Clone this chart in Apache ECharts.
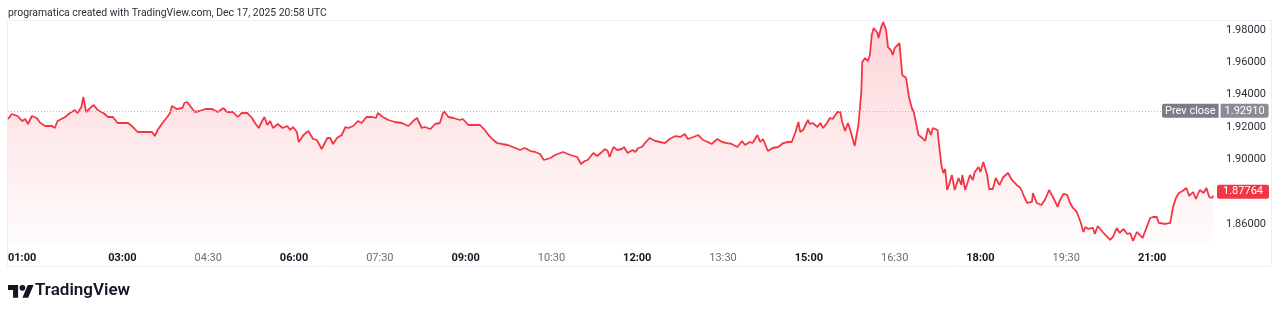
<!DOCTYPE html>
<html><head><meta charset="utf-8">
<script src="https://cdn.jsdelivr.net/npm/echarts@6/dist/echarts.min.js"></script>
<style>html,body{margin:0;padding:0;background:#fff}#c{width:1280px;height:314px}</style>
</head><body><div id="c"></div>
<script>
const titleText = "programatica created with TradingView.com, Dec 17, 2025 20:58 UTC";
const brandText = "TradingView";
const times = ["01:00","01:04","01:10","01:15","01:18","01:21","01:25","01:30","01:34","01:39","01:46","01:49","01:52","02:00","02:05","02:10","02:13","02:17","02:19","02:22","02:26","02:30","02:34","02:40","02:45","02:50","02:55","03:01","03:06","03:11","03:16","03:24","03:31","03:34","03:37","03:42","03:47","03:50","03:52","03:57","04:03","04:05","04:08","04:11","04:16","04:21","04:27","04:34","04:40","04:46","04:50","04:56","05:01","05:05","05:11","05:16","05:19","05:23","05:26","05:29","05:32","05:35","05:38","05:43","05:48","05:53","05:56","05:59","06:03","06:05","06:10","06:15","06:20","06:24","06:29","06:35","06:38","06:41","06:45","06:50","06:54","06:57","07:02","07:07","07:11","07:16","07:22","07:26","07:28","07:33","07:39","07:46","07:53","08:00","08:05","08:09","08:11","08:14","08:17","08:23","08:28","08:33","08:37","08:42","08:47","08:54","08:57","09:03","09:10","09:15","09:20","09:24","09:29","09:33","09:38","09:44","09:52","09:57","10:02","10:08","10:13","10:18","10:22","10:29","10:34","10:42","10:50","10:57","11:01","11:05","11:08","11:14","11:18","11:23","11:26","11:29","11:31","11:35","11:39","11:44","11:46","11:50","11:55","11:58","12:01","12:05","12:08","12:13","12:19","12:24","12:29","12:34","12:40","12:45","12:50","12:53","12:59","13:04","13:09","13:14","13:18","13:24","13:29","13:34","13:39","13:45","13:50","13:53","13:58","14:01","14:06","14:09","14:12","14:17","14:22","14:28","14:33","14:38","14:42","14:46","14:49","14:51","14:54","14:59","15:01","15:04","15:09","15:12","15:15","15:19","15:22","15:25","15:30","15:33","15:35","15:38","15:41","15:44","15:48","15:52","15:55","15:56","15:59","16:02","16:04","16:06","16:08","16:12","16:13","16:16","16:18","16:21","16:23","16:26","16:28","16:30","16:35","16:38","16:42","16:45","16:48","16:50","16:55","16:59","17:02","17:05","17:08","17:10","17:15","17:16","17:19","17:21","17:23","17:25","17:27","17:30","17:33","17:37","17:40","17:41","17:44","17:49","17:52","17:54","17:58","18:00","18:03","18:07","18:09","18:13","18:16","18:20","18:24","18:29","18:33","18:38","18:42","18:46","18:49","18:54","18:55","18:59","19:04","19:08","19:12","19:16","19:21","19:23","19:27","19:31","19:34","19:37","19:41","19:45","19:48","19:50","19:53","19:58","20:00","20:03","20:09","20:13","20:16","20:19","20:23","20:26","20:30","20:34","20:37","20:40","20:44","20:50","20:54","20:58","21:01","21:05","21:07","21:14","21:19","21:22","21:25","21:28","21:32","21:36","21:39","21:43","21:46","21:50","21:54","21:57","22:00","22:03","22:04"];
const prices = [1.92495,1.92804,1.92681,1.92371,1.92495,1.92186,1.92681,1.92557,1.92248,1.92062,1.92062,1.91938,1.92371,1.92619,1.92866,1.93052,1.92866,1.93237,1.93856,1.92928,1.93175,1.93361,1.93052,1.92866,1.92619,1.92619,1.92248,1.92248,1.92248,1.92000,1.91691,1.91691,1.91691,1.91443,1.91815,1.92248,1.92619,1.92866,1.93299,1.93114,1.93175,1.93485,1.93546,1.93299,1.92928,1.92990,1.93114,1.93114,1.92928,1.93175,1.92928,1.92928,1.92619,1.92866,1.92866,1.92557,1.92248,1.91938,1.92309,1.92619,1.92124,1.92371,1.91938,1.92186,1.91938,1.92062,1.91815,1.92000,1.91691,1.91072,1.91505,1.91753,1.91258,1.91196,1.90639,1.91320,1.91320,1.90949,1.91320,1.91505,1.92000,1.91938,1.92062,1.92371,1.92248,1.92619,1.92619,1.92557,1.92866,1.92619,1.92433,1.92309,1.92248,1.92062,1.92371,1.92557,1.92309,1.91938,1.92000,1.91876,1.92186,1.92248,1.92990,1.92619,1.92557,1.92433,1.92495,1.92124,1.92124,1.92124,1.91815,1.91505,1.91196,1.91010,1.90949,1.90887,1.90701,1.90577,1.90701,1.90515,1.90454,1.90330,1.89959,1.90082,1.90268,1.90454,1.90268,1.90144,1.89711,1.89897,1.89959,1.90392,1.90206,1.90454,1.90639,1.90515,1.90144,1.90763,1.90577,1.90639,1.90763,1.90392,1.90577,1.90454,1.90701,1.90763,1.91010,1.91320,1.91134,1.91072,1.91010,1.91258,1.91443,1.91382,1.91567,1.91258,1.91382,1.91505,1.91196,1.91072,1.90949,1.91258,1.91072,1.91010,1.90949,1.90763,1.91134,1.90887,1.91072,1.91010,1.91505,1.91072,1.91258,1.90515,1.90701,1.90763,1.91010,1.91072,1.91072,1.91691,1.92309,1.91691,1.91815,1.92433,1.92186,1.92248,1.92000,1.92248,1.91938,1.92248,1.92557,1.92495,1.92928,1.92928,1.92309,1.91753,1.92248,1.91691,1.90825,1.92124,1.94165,1.96021,1.96268,1.96083,1.96454,1.97691,1.98124,1.97814,1.97505,1.98186,1.98495,1.98000,1.96948,1.96763,1.96454,1.96887,1.97196,1.95217,1.95031,1.93856,1.93175,1.92928,1.91505,1.91320,1.91134,1.91938,1.91505,1.91938,1.91815,1.91196,1.89649,1.89155,1.89402,1.88103,1.88413,1.89031,1.88103,1.88845,1.88413,1.89031,1.88103,1.89031,1.88722,1.89216,1.89526,1.89216,1.89835,1.89031,1.88165,1.88165,1.88845,1.88413,1.88907,1.89155,1.88722,1.88413,1.88227,1.87670,1.87299,1.87361,1.87918,1.87299,1.87175,1.87546,1.88103,1.87670,1.87052,1.87423,1.87856,1.87794,1.87299,1.86990,1.86742,1.86124,1.85505,1.85814,1.85691,1.85753,1.85381,1.85876,1.85443,1.85196,1.85010,1.85196,1.85753,1.85443,1.85691,1.85381,1.85443,1.84948,1.85505,1.85134,1.85753,1.86371,1.86433,1.86433,1.86062,1.86000,1.86062,1.87052,1.87608,1.87918,1.88041,1.88227,1.87732,1.87979,1.87546,1.88103,1.87918,1.88227,1.87670,1.87608,1.87764];
const xTickLabels = ["01:00","03:00","04:30","06:00","07:30","09:00","10:30","12:00","13:30","15:00","16:30","18:00","19:30","21:00"];
const yTickValues = [1.86, 1.88, 1.90, 1.92, 1.94, 1.96, 1.98];
const prevClose = 1.92910;
const prevCloseLabel = "Prev close";
const lastPrice = prices[prices.length - 1];

function toMin(s){ const p = s.split(':').map(Number); return p[0]*60 + p[1]; }
function toLabel(v){ const h = Math.floor(v/60), m = Math.round(v%60); return String(h).padStart(2,'0') + ':' + String(m).padStart(2,'0'); }
const data = times.map((t,i) => [toMin(t), prices[i]]);
const FONT = 'Roboto, "Liberation Sans", sans-serif';

const chart = echarts.init(document.getElementById('c'), null, {renderer:'canvas'});
chart.setOption({
  animation: false,
  backgroundColor: '#ffffff',
  textStyle: { fontFamily: FONT },
  title: { text: titleText, left: 3, top: 3, textStyle: { fontSize: 10.4, fontWeight: 'normal', color: '#2a2e39', fontFamily: FONT } },
  grid: { left: 8, right: 65, top: 20, bottom: 69 },
  xAxis: {
    type: 'value', min: 60, max: 1326,
    axisLine: { show: false }, axisTick: { show: false }, splitLine: { show: false },
    axisLabel: {
      customValues: xTickLabels.map(toMin),
      alignMinLabel: 'left',
      margin: 8,
      formatter: function(v){ const s = toLabel(v); return s.endsWith(':00') ? '{b|' + s + '}' : '{n|' + s + '}'; },
      rich: {
        b: { fontWeight: 'bold', color: '#131722', fontSize: 11, fontFamily: FONT },
        n: { color: '#6a6d78', fontSize: 11, fontFamily: FONT }
      }
    }
  },
  yAxis: {
    type: 'value', position: 'right', min: 1.847, max: 1.9862,
    axisLine: { show: false }, axisTick: { show: false }, splitLine: { show: false },
    axisLabel: { customValues: yTickValues, margin: 11, color: '#2a2e39', fontSize: 11, formatter: v => v.toFixed(5) }
  },
  series: [{
    type: 'line', data: data, showSymbol: false, symbol: 'none',
    lineStyle: { color: '#f23645', width: 1.8 },
    areaStyle: {
      origin: 'start',
      color: new echarts.graphic.LinearGradient(0, 0, 0, 1, [
        { offset: 0, color: 'rgba(242,54,69,0.30)' },
        { offset: 1, color: 'rgba(242,54,69,0.02)' }
      ])
    },
    markLine: {
      silent: true, symbol: ['none','none'], animation: false,
      data: [
        {
          yAxis: prevClose,
          lineStyle: { type: [1, 2], color: '#b8bcc6', width: 1 },
          label: {
            show: true, position: 'end', distance: -53,
            formatter: '{a|' + prevCloseLabel + '}{s|}{b|' + prevClose.toFixed(5) + '}',
            rich: {
              a: { backgroundColor: '#7b7e86', color: '#fff', fontSize: 11, padding: [2, 3, 1, 3], fontFamily: FONT, borderRadius: [2,0,0,2] },
              s: { width: 2, height: 14 },
              b: { backgroundColor: '#8a8d95', color: '#fff', fontSize: 11, padding: [2, 4, 1, 4], fontFamily: FONT, borderRadius: [0,2,2,0] }
            }
          }
        },
        {
          yAxis: lastPrice,
          lineStyle: { color: 'rgba(0,0,0,0)', width: 1 },
          label: {
            show: true, position: 'end', distance: 2,
            formatter: lastPrice.toFixed(5),
            backgroundColor: '#f23645', color: '#ffffff', fontSize: 11, padding: [2, 6, 1, 6], borderRadius: 2, fontFamily: FONT
          }
        }
      ]
    }
  }],
  graphic: [
    { type: 'rect', z: -1, silent: true, shape: { x: 7.5, y: 20.5, width: 1264, height: 246 }, style: { fill: 'none', stroke: '#eef0f4', lineWidth: 1 } },
    { type: 'polygon', silent: true, x: 8, y: 282, scaleX: 0.72, scaleY: 0.72,
      shape: { points: [[0,4],[14,4],[14,22],[7,22],[7,11],[0,11]] }, style: { fill: '#131722' } },
    { type: 'polygon', silent: true, x: 8, y: 282, scaleX: 0.72, scaleY: 0.72,
      shape: { points: [[20,22],[27.5,4],[35.5,4],[28,22]] }, style: { fill: '#131722' } },
    { type: 'circle', silent: true, x: 8, y: 282, scaleX: 0.72, scaleY: 0.72, shape: { cx: 20, cy: 8, r: 4 }, style: { fill: '#131722' } },
    { type: 'text', silent: true, x: 35, y: 282, style: { text: brandText, fill: '#131722', fontSize: 17, fontWeight: 600, fontFamily: FONT } }
  ]
});
</script>
</body></html>
